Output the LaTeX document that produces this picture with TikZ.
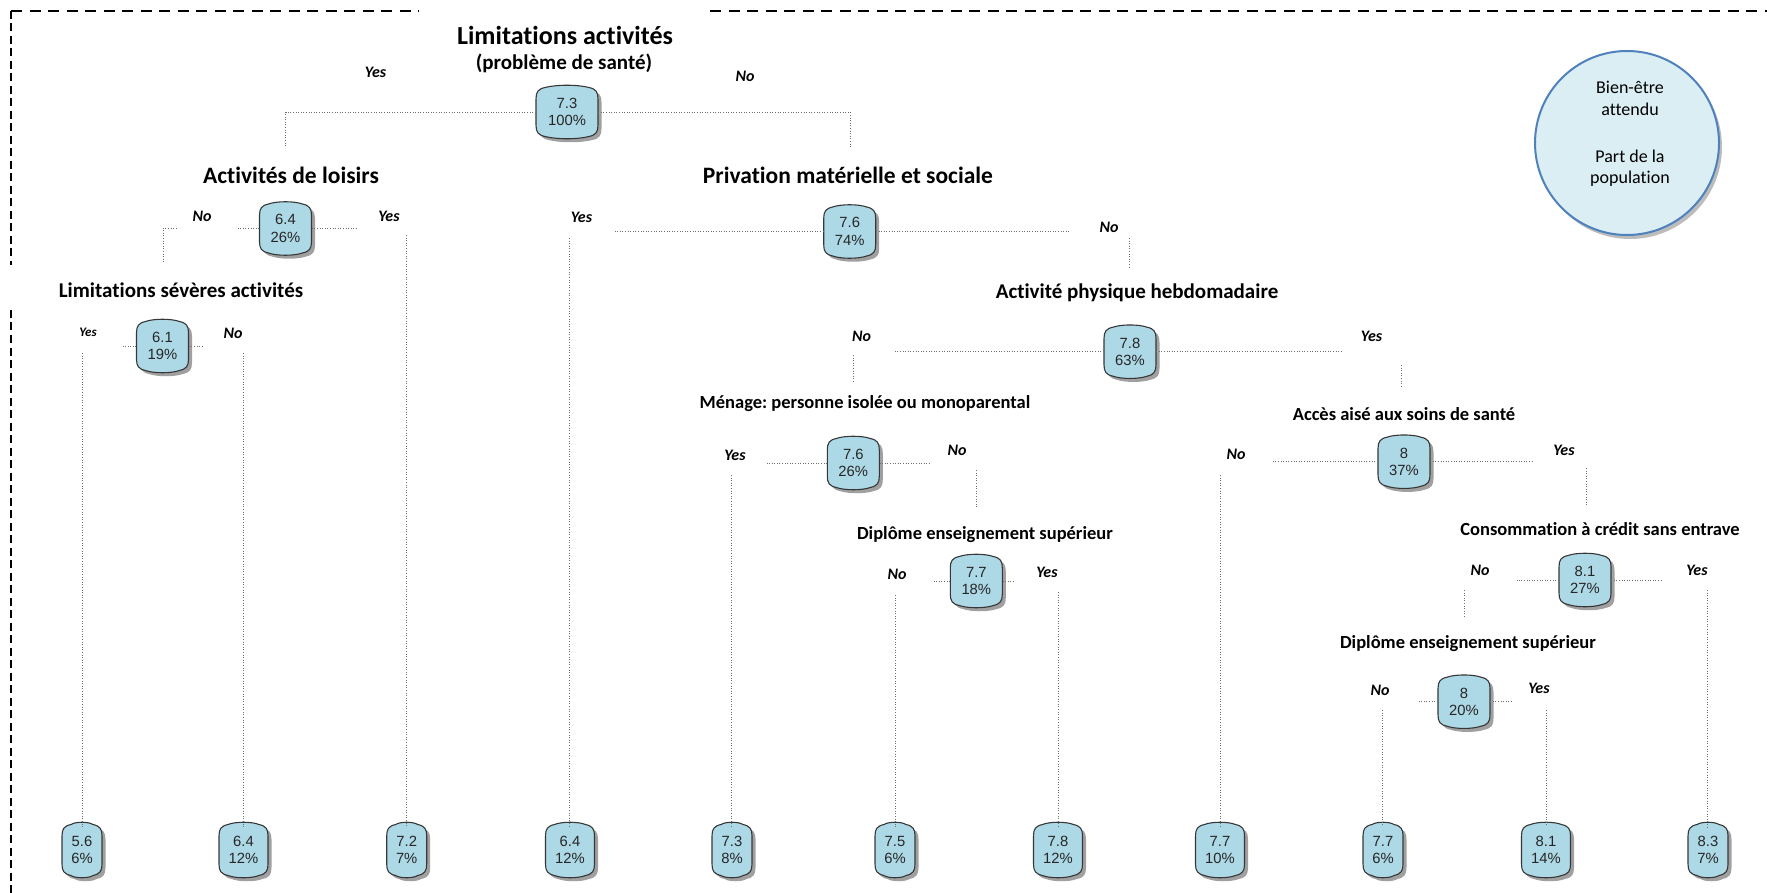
\documentclass[tikz,border=0pt]{standalone}
\usepackage{fontspec}
\setmainfont{Carlito}[Ligatures={NoCommon,NoContextual}]
\newfontfamily\numfont{Liberation Sans}
\usetikzlibrary{calc}
\frenchspacing
\definecolor{nodefill}{RGB}{173,216,230}
\definecolor{nodeline}{RGB}{55,55,55}
\definecolor{shadowgray}{RGB}{160,160,160}
\definecolor{legendfill}{RGB}{219,238,244}
\definecolor{legendline}{RGB}{79,129,189}
\definecolor{linegray}{RGB}{110,110,110}
\newcommand\barrelpath[2]{(-#1,-#2+9) .. controls (-#1,-#2+2) and (-#1+2,-#2-1) .. (-#1+9,-#2-2.5) .. controls (-#1/3,-#2-5.5) and (#1/3,-#2-5.5) .. (#1-9,-#2-2.5) .. controls (#1-2,-#2-1) and (#1,-#2+2) .. (#1,-#2+9) -- (#1,#2-9) .. controls (#1,#2-2) and (#1-2,#2+1) .. (#1-9,#2+2.5) .. controls (#1/3,#2+5.5) and (-#1/3,#2+5.5) .. (-#1+9,#2+2.5) .. controls (-#1+2,#2+1) and (-#1,#2-2) .. (-#1,#2-9) -- cycle}
\newcommand\bnode[6]{%
  \begin{scope}[shift={(#2+3.5,#3+3.5)}]
    \path[fill=shadowgray] \barrelpath{#4}{#5};
  \end{scope}
  \begin{scope}[shift={(#2,#3)}]
    \path[fill=nodefill, draw=nodeline, line width=1.1pt] \barrelpath{#4}{#5};
  \end{scope}
  \node[numtext, minimum width=2*#4, minimum height=2*#5] (#1) at (#2,#3) {#6};
}
\tikzset{
  tA/.style={font=\bfseries\fontsize{26}{30}\selectfont},
  tB/.style={font=\bfseries\fontsize{21}{25}\selectfont},
  tC/.style={font=\bfseries\fontsize{23.5}{28}\selectfont},
  tD/.style={font=\bfseries\fontsize{21}{25}\selectfont},
  tE/.style={font=\bfseries\fontsize{18.5}{22}\selectfont},
  yn/.style={font=\bfseries\itshape\fontsize{16}{19}\selectfont},
  ynsmall/.style={font=\bfseries\itshape\fontsize{13}{16}\selectfont},
  conn/.style={draw=linegray, line width=0.8pt, dash pattern=on 1pt off 1.6pt},
  numtext/.style={font=\numfont\fontsize{14.8}{17.5}\selectfont, text=black!85, align=center, inner sep=0pt},
  borderh/.style={draw=black, line width=2pt, dash pattern=on 11pt off 7.5pt},
  borderv/.style={draw=black, line width=2pt, dash pattern=on 8pt off 4.5pt},
}
\begin{document}
\begin{tikzpicture}[x=1pt, y=-1pt]
\useasboundingbox (0,0) rectangle (1767,893);
\fill[white] (0,0) rectangle (1767,893);

% dashed frame
\draw[borderh] (11,11) -- (419,11);
\draw[borderh] (710,11) -- (1767,11);
\draw[borderv] (11,11) -- (11,265);
\draw[borderv] (11,310) -- (11,893);

% legend
\fill[shadowgray!70] (1630,147) circle (92);
\node[circle, draw=legendline, fill=legendfill, line width=2pt, minimum size=184, inner sep=0pt] (legend) at (1627,143) {};
\node[align=center, font=\fontsize{18}{21.4}\selectfont] (legendtext) at (1630,134) {Bien-être\\attendu\\[26pt]Part de la\\population};

% titles
\node[tA] (tR1) at (565,35) {Limitations activités};
\node[tB] (tR2) at (564,63) {(problème de santé)};
\node[tC] (tAct) at (291,175) {Activités de loisirs};
\node[tC] (tPriv) at (848,175) {Privation matérielle et sociale};
\node[tD] (tSev) at (181,290) {Limitations sévères activités};
\node[tD] (tPhys) at (1137,293) {Activité physique hebdomadaire};
\node[tE] (tMen) at (865,404) {Ménage: personne isolée ou monoparental};
\node[tE] (tDip1) at (985,535) {Diplôme enseignement supérieur};
\node[tE] (tAcc) at (1404,414) {Accès aisé aux soins de santé};
\node[tE] (tCons) at (1600,529) {Consommation à crédit sans entrave};
\node[tE] (tDip2) at (1468,644) {Diplôme enseignement supérieur};

% internal nodes
\bnode{R}{567}{112}{31}{22}{7.3\\100\%}
\bnode{A}{285.5}{228.5}{26}{22}{6.4\\26\%}
\bnode{P}{849.7}{231.5}{26}{22}{7.6\\74\%}
\bnode{S}{162.5}{346}{26}{22}{6.1\\19\%}
\bnode{H}{1130}{351.7}{26}{22}{7.8\\63\%}
\bnode{M}{853.3}{463}{26}{22}{7.6\\26\%}
\bnode{Da}{976.3}{581}{26}{22}{7.7\\18\%}
\bnode{C}{1404}{461.7}{26}{22}{8\\37\%}
\bnode{K}{1585}{580}{26}{22}{8.1\\27\%}
\bnode{Db}{1464}{701.7}{26}{22}{8\\20\%}

% leaves
\bnode{L1}{82}{850}{20}{23}{5.6\\6\%}
\bnode{L2}{243.5}{850}{24.5}{23}{6.4\\12\%}
\bnode{L3}{406.7}{850}{20}{23}{7.2\\7\%}
\bnode{L4}{570}{850}{24.5}{23}{6.4\\12\%}
\bnode{L5}{732}{850}{20}{23}{7.3\\8\%}
\bnode{L6}{895}{850}{20}{23}{7.5\\6\%}
\bnode{L7}{1058}{850}{24.5}{23}{7.8\\12\%}
\bnode{L8}{1220}{850}{24.5}{23}{7.7\\10\%}
\bnode{L9}{1383}{850}{20}{23}{7.7\\6\%}
\bnode{L10}{1546}{850}{24.5}{23}{8.1\\14\%}
\bnode{L11}{1708}{850}{20}{23}{8.3\\7\%}

% yes / no labels
\node[yn] (yR) at (375.6,72.5) {Yes};
\node[yn] (nR) at (745,76.5) {No};
\node[yn] (nA) at (202,216.5) {No};
\node[yn] (yA) at (389,216.5) {Yes};
\node[yn] (yP) at (581.5,217) {Yes};
\node[yn] (nP) at (1109,227) {No};
\node[ynsmall] (yS) at (88,332) {Yes};
\node[yn] (nS) at (233,333) {No};
\node[yn] (nH) at (861.5,336.7) {No};
\node[yn] (yH) at (1371.6,336.7) {Yes};
\node[yn] (yM) at (735,455) {Yes};
\node[yn] (nM) at (957,450) {No};
\node[yn] (nDa) at (897,574) {No};
\node[yn] (yDa) at (1047,572) {Yes};
\node[yn] (nC) at (1236,454) {No};
\node[yn] (yC) at (1564,450) {Yes};
\node[yn] (nK) at (1480,570) {No};
\node[yn] (yK) at (1697,570) {Yes};
\node[yn] (nDb) at (1380,690) {No};
\node[yn] (yDb) at (1539,688) {Yes};

% connectors
\coordinate (rL) at (285.6,112); \coordinate (rLd) at (285.6,146.7);
\draw[conn] (R.west) -- (rL) -- (rLd);
\coordinate (rR) at (850,112); \coordinate (rRd) at (850,146.7);
\draw[conn] (R.east) -- (rR) -- (rRd);

\coordinate (aL) at (236.5,228.5);
\draw[conn] (A.west) -- (aL);
\coordinate (aC1) at (176.8,228.5); \coordinate (aC2) at (163,228.5); \coordinate (aC3) at (163,263);
\draw[conn] (aC1) -- (aC2) -- (aC3);
\coordinate (aR) at (358,228.5);
\draw[conn] (A.east) -- (aR);
\coordinate (aV) at (406.7,235);
\draw[conn] (aV) -- (aV |- L3.north);

\coordinate (pL) at (614,231.5);
\draw[conn] (P.west) -- (pL);
\coordinate (pV) at (569.7,238);
\draw[conn] (pV) -- (pV |- L4.north);
\coordinate (pR) at (1070,231.5);
\draw[conn] (P.east) -- (pR);
\coordinate (pV2) at (1129,238); \coordinate (pV2d) at (1129,268);
\draw[conn] (pV2) -- (pV2d);

\coordinate (sL) at (122.5,346);
\draw[conn] (S.west) -- (sL);
\coordinate (sV) at (82,353);
\draw[conn] (sV) -- (sV |- L1.north);
\coordinate (sR) at (204,346);
\draw[conn] (S.east) -- (sR);
\coordinate (sV2) at (243.5,353);
\draw[conn] (sV2) -- (sV2 |- L2.north);

\coordinate (hL) at (895,351.7);
\draw[conn] (H.west) -- (hL);
\coordinate (hV) at (853.6,355); \coordinate (hVd) at (853.6,383);
\draw[conn] (hV) -- (hVd);
\coordinate (hR) at (1342,351.7);
\draw[conn] (H.east) -- (hR);
\coordinate (hV2) at (1401,365); \coordinate (hV2d) at (1401,388);
\draw[conn] (hV2) -- (hV2d);

\coordinate (mL) at (766.7,463);
\draw[conn] (M.west) -- (mL);
\coordinate (mV) at (731.7,475);
\draw[conn] (mV) -- (mV |- L5.north);
\coordinate (mR) at (930,463);
\draw[conn] (M.east) -- (mR);
\coordinate (mV2) at (976,470); \coordinate (mV2d) at (976,508);
\draw[conn] (mV2) -- (mV2d);

\coordinate (daL) at (933,581);
\draw[conn] (Da.west) -- (daL);
\coordinate (daV) at (895,595);
\draw[conn] (daV) -- (daV |- L6.north);
\coordinate (daR) at (1013.3,581);
\draw[conn] (Da.east) -- (daR);
\coordinate (daV2) at (1058,592);
\draw[conn] (daV2) -- (daV2 |- L7.north);

\coordinate (cL) at (1271.7,461.7);
\draw[conn] (C.west) -- (cL);
\coordinate (cV) at (1220,475);
\draw[conn] (cV) -- (cV |- L8.north);
\coordinate (cR) at (1531.7,461.7);
\draw[conn] (C.east) -- (cR);
\coordinate (cV2) at (1586.7,468); \coordinate (cV2d) at (1586.7,505);
\draw[conn] (cV2) -- (cV2d);

\coordinate (kL) at (1516.7,580);
\draw[conn] (K.west) -- (kL);
\coordinate (kV) at (1464,590); \coordinate (kVd) at (1464,618);
\draw[conn] (kV) -- (kVd);
\coordinate (kR) at (1663,580);
\draw[conn] (K.east) -- (kR);
\coordinate (kV2) at (1707.5,590);
\draw[conn] (kV2) -- (kV2 |- L11.north);

\coordinate (dbL) at (1418,701.7);
\draw[conn] (Db.west) -- (dbL);
\coordinate (dbV) at (1382.7,710);
\draw[conn] (dbV) -- (dbV |- L9.north);
\coordinate (dbR) at (1513,701.7);
\draw[conn] (Db.east) -- (dbR);
\coordinate (dbV2) at (1546,710);
\draw[conn] (dbV2) -- (dbV2 |- L10.north);
\end{tikzpicture}
\end{document}
